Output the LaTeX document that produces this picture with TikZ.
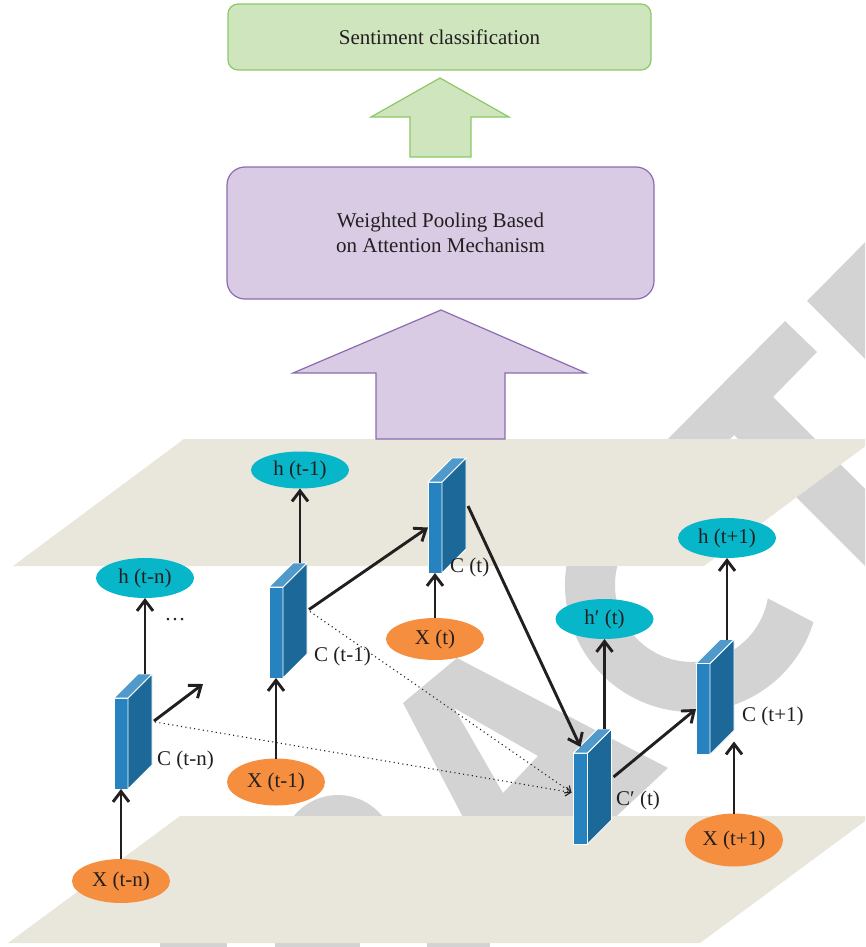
\documentclass[tikz,border=0pt]{standalone}
\usepackage{fontspec}
\setmainfont{Liberation Serif}
\usetikzlibrary{arrows.meta,shapes.geometric,calc}

\definecolor{ink}{HTML}{231F20}
\definecolor{wmark}{HTML}{D3D3D3}
\definecolor{planefill}{HTML}{E9E7DB}
\definecolor{greenfill}{HTML}{CFE5BD}
\definecolor{greenline}{HTML}{8CC866}
\definecolor{purplefill}{HTML}{D9CBE4}
\definecolor{purpleline}{HTML}{8B6BB1}
\definecolor{hcyan}{HTML}{07B6C9}
\definecolor{xorange}{HTML}{F68E40}
\definecolor{bfront}{HTML}{2683C0}
\definecolor{bside}{HTML}{1B6899}
\definecolor{btop}{HTML}{4F99CB}

% one memory cell drawn as a thin 3-D slab: front face is the node,
% side and top faces are added behind it
\newcommand\cellblock[2]{%
  \node[slab] (#1) at (#2) {};
  \filldraw[fill=bside, draw=white, line width=0.8pt]
    (#1.north east) -- ++(24,-24) -- ++(0,91) -- (#1.south east) -- cycle;
  \filldraw[fill=btop, draw=white, line width=0.8pt]
    (#1.north west) -- ++(24,-24) -- ++(14,0) -- (#1.north east) -- cycle;
  \coordinate (#1-top) at ($(#1.north)+(24,-24)$);
}

\begin{document}
\begin{tikzpicture}[x=1pt,y=-1pt,
  txt/.style={font=\fontsize{21}{25}\selectfont, text=ink},
  slab/.style={rectangle, draw=white, line width=0.8pt, fill=bfront,
    minimum width=14pt, minimum height=91pt, inner sep=0pt, outer sep=0pt},
  hnode/.style={ellipse, fill=hcyan, txt, minimum width=98pt,
    minimum height=40pt, inner sep=0pt, outer sep=0pt},
  xnode/.style={ellipse, fill=xorange, txt, minimum width=98pt,
    minimum height=44pt, inner sep=0pt, outer sep=0pt},
  lbl/.style={txt, anchor=west, inner sep=0pt},
  arr/.style={draw=ink, line width=2.9pt,
    -{Straight Barb[length=10.5pt,width=16pt]}},
  dotarr/.style={draw=ink, line width=1.1pt, dash pattern=on 1.1pt off 3.3pt,
    -{Straight Barb[length=5pt,width=9pt]}},
  plane/.style={fill=planefill},
  bigbox/.style={rectangle, txt, align=center, line width=1.2pt}
]
\useasboundingbox (0,0) rectangle (865,947);

% ---------- faint background lettering ----------
\begin{scope}
\clip (0,0) rectangle (865,947);
\fill[wmark] (900,207) -- (807,301) -- (900,394) -- cycle;
\fill[wmark] (785,321) -- (817,352) -- (773,397) -- (900,524) -- (900,601)
  -- (734,435) -- (689.75,479.25) -- (658.75,448.25) -- cycle;
\fill[wmark] ($(692,585)+(17:127)$) arc[start angle=17, end angle=300, radius=127]
  -- ($(692,585)+(300:77)$) arc[start angle=300, end angle=10, radius=77] -- cycle;
\fill[wmark, even odd rule] (403,703) -- (457,658) -- (668,768) -- (591,840)
  -- (475,840) -- cycle
  (454,708) -- (538,756) -- (503,793) -- cycle;
\fill[wmark] (338,852) circle[radius=57];
\fill[wmark] (160,943) rectangle (227,947);
\fill[wmark] (275,943) rectangle (360,947);
\fill[wmark] (427,943) rectangle (490,947);

% ---------- the two layers ----------
\fill[plane] (184,439) -- (875,439) -- (704,566) -- (13,566) -- cycle;
\fill[plane] (180,816) -- (872,816) -- (700,943) -- (8,943) -- cycle;
\end{scope}

% ---------- upper part: pooling and classification ----------
\filldraw[fill=purplefill, draw=purpleline, line width=1.2pt]
  (441,310) -- (586,373) -- (505,373) -- (505,439) -- (376,439)
  -- (376,373) -- (293,373) -- cycle;
\node[bigbox, fill=purplefill, draw=purpleline, rounded corners=18pt,
  minimum width=427pt, minimum height=132pt] (pool) at (440.5,233)
  {Weighted Pooling Based\\on Attention Mechanism};
\filldraw[fill=greenfill, draw=greenline, line width=1.2pt]
  (440,78) -- (509,117) -- (471,117) -- (471,157) -- (410,157)
  -- (410,117) -- (371,117) -- cycle;
\node[bigbox, fill=greenfill, draw=greenline, rounded corners=10pt,
  minimum width=423pt, minimum height=66pt] (sent) at (439.5,37)
  {Sentiment classification};

% ---------- cells ----------
\cellblock{ctn}{121,743.5}
\cellblock{ctm}{276,632.5}
\cellblock{ct}{435,527.5}
\cellblock{cpt}{580.5,798.5}
\cellblock{ctp}{703,709}

% ---------- inputs and hidden states ----------
\node[hnode] (htn) at (145,578) {h (t-n)};
\node[hnode, minimum height=37pt] (htm) at (300,470) {h (t-1)};
\node[hnode] (htp) at (727,538) {h (t+1)};
\node[hnode] (hpt) at (604.5,619) {h′ (t)};

\node[xnode, minimum height=42pt] (xt) at (435,639) {X (t)};
\node[xnode, minimum height=47pt] (xtm) at (276,782) {X (t-1)};
\node[xnode] (xtn) at (121,881) {X (t-n)};
\node[xnode, minimum height=53pt] (xtp) at (734,840) {X (t+1)};

% ---------- labels ----------
\node[lbl] (lctn) at (157,760) {C (t-n)};
\node[lbl] (lctm) at (314,656) {C (t-1)};
\node[lbl] (lct) at (450,567) {C (t)};
\node[lbl] (lcpt) at (616,800) {C′ (t)};
\node[lbl] (lctp) at (742,716) {C (t+1)};
\node[txt, inner sep=0pt] (dots) at (175,620) {…};

% ---------- connectors ----------
\coordinate (ctn-out) at ($(ctn.east)+(26,-22.5)$);
\coordinate (ctn-free) at (203,684);
\coordinate (ctm-out) at ($(ctm.east)+(26,-23)$);
\coordinate (ct-out) at ($(ct.east)+(26,-21.5)$);
\coordinate (cpt-out) at ($(cpt.east)+(26,-21.5)$);
\coordinate (cpt-in) at ($(cpt.north)+(0,-6)$);
\coordinate (cpt-dot) at ($(cpt.west)+(-2,-6)$);
\coordinate (ctp-in) at ($(ctp.south east)+(24,-13)$);

\draw[arr] (xtn) -- (ctn.south);
\draw[arr] (ctn-top) -- (htn);
\draw[arr] (ctn-out) -- (ctn-free);

\draw[arr] (xtm) -- (ctm.south);
\draw[arr] (ctm-top) -- (htm);
\draw[arr] (ctm-out) -- (ct.west);

\draw[arr] (xt) -- (ct.south);
\draw[arr] (ct-out) -- (cpt-in);

\draw[arr] (cpt-top) -- (hpt);
\draw[arr] (cpt-out) -- (ctp.west);

\draw[arr] (xtp) -- (ctp-in);
\draw[arr] (ctp-top) -- (htp);

\draw[dotarr] ($(ctn.east)+(27,-21.5)$) -- (cpt-dot);
\draw[dotarr] ($(ctm.east)+(27,-21)$) -- (cpt-dot);
\end{tikzpicture}
\end{document}
